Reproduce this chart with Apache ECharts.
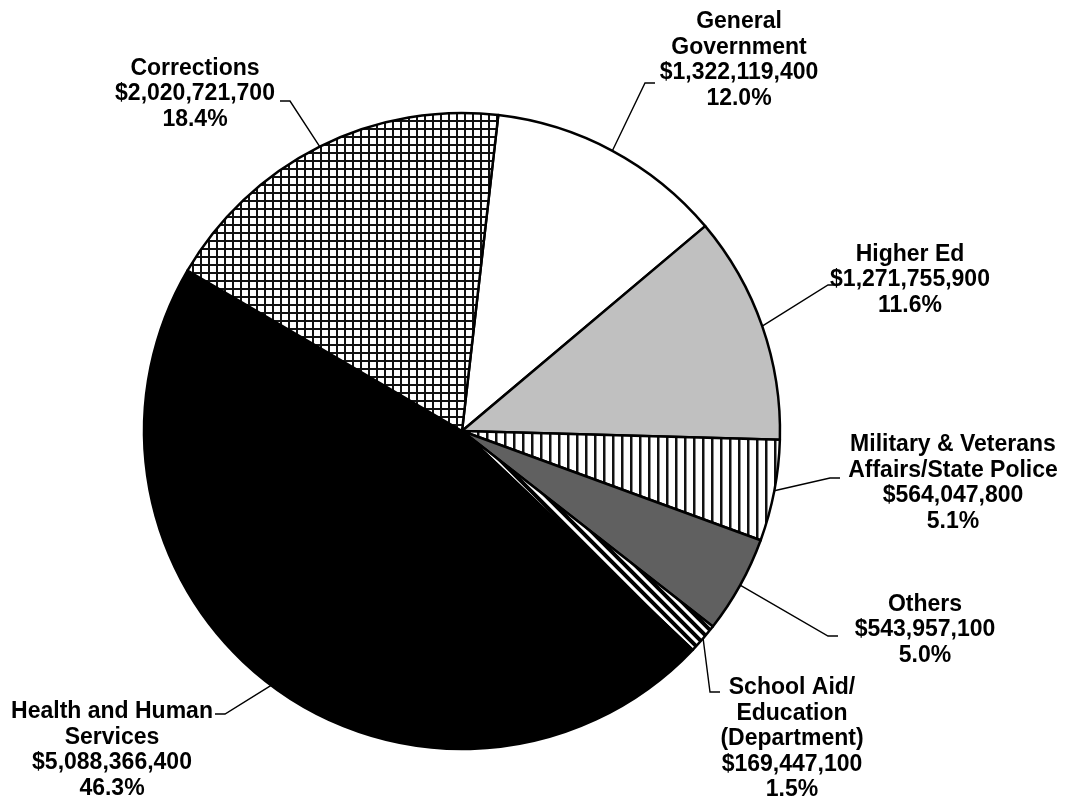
<!DOCTYPE html>
<html>
<head>
<meta charset="utf-8">
<script src="https://cdn.jsdelivr.net/npm/echarts@6/dist/echarts.min.js"></script>
<style>
html,body{margin:0;padding:0;background:#fff;}
#chart{width:1067px;height:802px;}
</style>
</head>
<body>
<div id="chart"></div>
<script>
// ---- data ----
const categories = [
  "General\nGovernment",
  "Higher Ed",
  "Military & Veterans\nAffairs/State Police",
  "Others",
  "School Aid/\nEducation\n(Department)",
  "Health and Human\nServices",
  "Corrections"
];
const amounts = [1322119400, 1271755900, 564047800, 543957100, 169447100, 5088366400, 2020721700];
const percentLabels = ["12.0%", "11.6%", "5.1%", "5.0%", "1.5%", "46.3%", "18.4%"];

// ---- label layout (label centre x,y ; leader stub end x,y ; stub direction) ----
const labelLayouts = [
  [739, 60, 655, 83, -1],
  [910, 280, 838, 285, -1],
  [953, 483, 840, 478, -1],
  [925, 630, 838, 636, -1],
  [792, 739, 720, 692, -1],
  [112, 750, 215, 714, 1],
  [195, 94, 280, 101, 1]
];

function makePattern(kind) {
  const c = document.createElement('canvas');
  const ctx = c.getContext('2d');
  if (kind === 'grid') {
    c.width = 8; c.height = 8;
    ctx.fillStyle = '#fff'; ctx.fillRect(0, 0, 8, 8);
    ctx.fillStyle = '#111';
    ctx.fillRect(0, 0, 8, 2);
    ctx.fillRect(0, 0, 2, 8);
  } else if (kind === 'vert') {
    c.width = 9; c.height = 9;
    ctx.fillStyle = '#fff'; ctx.fillRect(0, 0, 9, 9);
    ctx.fillStyle = '#111';
    ctx.fillRect(0, 0, 2.5, 9);
  } else if (kind === 'diag') {
    c.width = 10; c.height = 10;
    ctx.fillStyle = '#fff'; ctx.fillRect(0, 0, 10, 10);
    ctx.strokeStyle = '#000'; ctx.lineWidth = 4;
    ctx.beginPath();
    ctx.moveTo(-5, -5); ctx.lineTo(15, 15);
    ctx.moveTo(-5, 5); ctx.lineTo(5, 15);
    ctx.moveTo(5, -5); ctx.lineTo(15, 5);
    ctx.stroke();
  }
  return c;
}

const fills = [
  '#ffffff',
  '#c0c0c0',
  { image: makePattern('vert'), repeat: 'repeat' },
  '#606060',
  { image: makePattern('diag'), repeat: 'repeat' },
  '#000000',
  { image: makePattern('grid'), repeat: 'repeat' }
];

function fmtMoney(v) {
  return '$' + v.toString().replace(/\B(?=(\d{3})+(?!\d))/g, ',');
}

const seriesData = categories.map((name, i) => ({
  name: name,
  value: amounts[i],
  itemStyle: { color: fills[i] }
}));

const chart = echarts.init(document.getElementById('chart'));
chart.setOption({
  backgroundColor: '#ffffff',
  animation: false,
  series: [{
    type: 'pie',
    center: [462, 431],
    radius: 318,
    startAngle: 83.45,
    clockwise: true,
    avoidLabelOverlap: false,
    data: seriesData,
    itemStyle: { borderColor: '#000', borderWidth: 2.5 },
    label: {
      show: true,
      position: 'outside',
      fontFamily: 'Liberation Sans, Arial, sans-serif',
      fontWeight: 'bold',
      fontSize: 23,
      lineHeight: 25.5,
      color: '#000',
      align: 'center',
      formatter: function (p) {
        return p.name + '\n' + fmtMoney(p.value) + '\n' + percentLabels[p.dataIndex];
      }
    },
    labelLine: {
      show: true,
      length: 10,
      length2: 10,
      smooth: false,
      lineStyle: { color: '#000', width: 1.4 }
    },
    labelLayout: function (params) {
      const L = labelLayouts[params.dataIndex];
      const p0 = params.labelLinePoints ? params.labelLinePoints[0] : [L[2], L[3]];
      const stubEnd = [L[2], L[3]];
      const knee = [L[2] + L[4] * 10, L[3]];
      return {
        x: L[0],
        y: L[1],
        align: 'center',
        verticalAlign: 'middle',
        labelLinePoints: [p0, knee, stubEnd]
      };
    },
    emphasis: { disabled: true }
  }]
});
</script>
</body>
</html>
